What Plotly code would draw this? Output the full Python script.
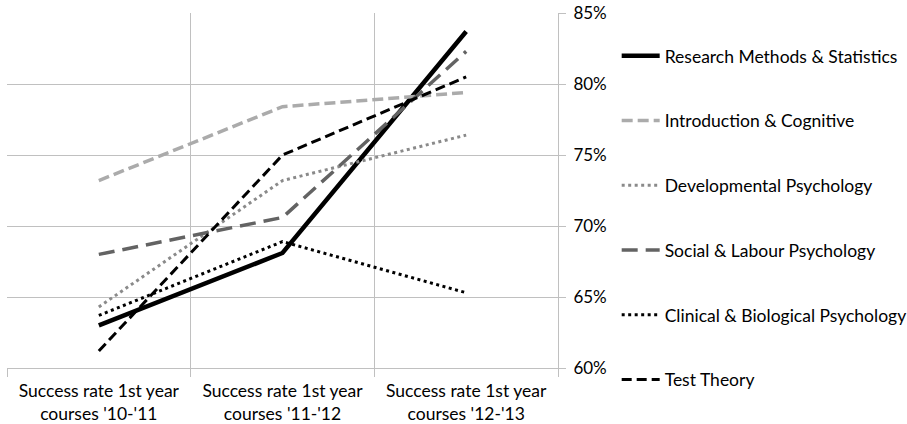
import plotly.graph_objects as go

# Academic years on the category axis
categories = [
    "Success rate 1st year<br>courses '10-'11",
    "Success rate 1st year<br>courses '11-'12",
    "Success rate 1st year<br>courses '12-'13",
]

# Success rates (%) per course cluster
research_methods = [63.0, 68.1, 83.7]
intro_cognitive = [73.2, 78.4, 79.4]
developmental = [64.3, 73.2, 76.4]
social_labour = [68.0, 70.6, 82.3]
clinical_bio = [63.7, 68.9, 65.3]
test_theory = [61.2, 75.0, 80.5]

y_ticks = [60, 65, 70, 75, 80, 85]

series = [
    ("Research Methods & Statistics", research_methods, "#000000", 4.5, "solid"),
    ("Introduction & Cognitive", intro_cognitive, "#ababab", 3.5, "11px,5px"),
    ("Developmental Psychology", developmental, "#8a8a8a", 3, "3px,3.5px"),
    ("Social & Labour Psychology", social_labour, "#636363", 3.5, "16px,8px"),
    ("Clinical & Biological Psychology", clinical_bio, "#000000", 3, "3px,3.5px"),
    ("Test Theory", test_theory, "#000000", 3, "10px,5px"),
]

x_pos = list(range(len(categories)))
FONT = "Lato, 'Open Sans', sans-serif"
GRID = "#c0c0c0"

fig = go.Figure()
for i, (name, vals, color, width, dash) in enumerate(series):
    fig.add_trace(go.Scatter(
        x=x_pos, y=vals, name=name, mode="lines",
        line=dict(color=color, width=width, dash=dash),
        legendgroup=f"g{i}",
    ))

fig.update_layout(
    width=907, height=424,
    margin=dict(l=7, r=349, t=13, b=56, autoexpand=False),
    plot_bgcolor="white", paper_bgcolor="white",
    font=dict(family=FONT, size=17.5, color="#000000"),
    showlegend=True,
    legend=dict(
        x=1.1065, xanchor="left", y=0.93, yanchor="top",
        tracegroupgap=39, itemwidth=38, maxheight=420,
        font=dict(family=FONT, size=17.5, color="#000000"),
        bgcolor="rgba(0,0,0,0)",
    ),
    xaxis=dict(
        range=[-0.5, len(categories) - 0.5],
        tickmode="array", tickvals=x_pos, ticktext=categories,
        ticks="", showgrid=False, zeroline=False,
        showline=True, linecolor=GRID, linewidth=1,
        tickfont=dict(family=FONT, size=17.5, color="#000000"),
        ticklabelstandoff=7,
        minor=dict(
            tickvals=[p - 0.5 for p in x_pos] + [x_pos[-1] + 0.5],
            ticks="outside", ticklen=8, tickcolor=GRID, tickwidth=1,
            showgrid=True, gridcolor=GRID, gridwidth=1,
        ),
        fixedrange=True,
    ),
    yaxis=dict(
        range=[60, 85], side="right",
        tickmode="array", tickvals=y_ticks,
        ticktext=[f"{v}%" for v in y_ticks],
        ticks="outside", ticklen=7, tickcolor=GRID, tickwidth=1,
        showgrid=True, gridcolor=GRID, gridwidth=1,
        showline=True, linecolor=GRID, linewidth=1,
        zeroline=False, ticklabelstandoff=4,
        tickfont=dict(family=FONT, size=17, color="#000000"),
        fixedrange=True,
    ),
)

fig.write_html("out.html")
